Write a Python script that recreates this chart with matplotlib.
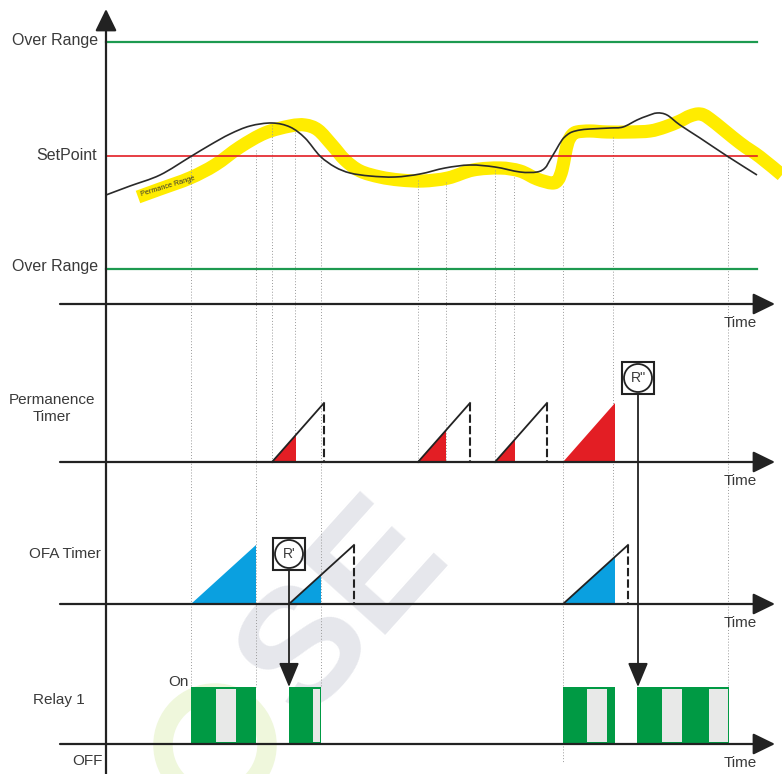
import matplotlib
matplotlib.use("Agg")
import matplotlib.pyplot as plt
from matplotlib.patches import Rectangle, Circle, Polygon, PathPatch
from matplotlib.path import Path
import numpy as np

plt.rcParams['font.family'] = ['Liberation Sans', 'DejaVu Sans']

# ---- data (time axis in px-like units, levels in px-like units, y grows down) ----
# process value (black) and permanence band (yellow)
pv_t = [106, 130, 160, 190, 210, 230, 250, 272, 290, 305, 320, 335, 350, 370, 395,
        420, 445, 470, 495, 520, 537, 545, 550, 556, 562, 567, 572, 580, 590, 610,
        623, 637, 647, 657, 667, 680, 700, 727, 757]
pv_v = [195, 186, 175, 157, 145, 134, 126, 123, 127, 138, 156, 167, 173, 176, 177,
        174, 168, 165, 167, 172, 172, 168, 160, 150, 140, 135, 132, 130, 129, 128,
        127, 120, 116, 113, 115, 125, 138, 156, 175]

band_t = [138, 160, 190, 215, 240, 265, 290, 305, 318, 332, 345, 360, 380, 400, 423,
          448, 473, 500, 520, 537, 552, 558, 562, 565, 568, 572, 577, 590, 607, 630,
          650, 665, 680, 690, 700, 710, 740, 760, 782]
band_v = [197, 189, 178, 165, 147, 133, 126, 125, 130, 145, 160, 171, 177, 180, 181,
          178, 170, 168, 171, 179, 183, 180, 170, 155, 142, 135, 132, 131, 132, 132,
          131, 127, 121, 116, 114, 119, 143, 157, 175]

over_hi, setpoint, over_lo = 42, 156, 269
line_end = 757

# event markers (dotted guides): x, start y, end y
guide_x = [191, 256, 272, 295, 321, 418, 446, 495, 514, 563, 613, 728]
guide_y0 = [157, 150, 125, 132, 157, 180, 182, 170, 177, 186, 137, 157]
guide_y1 = [687, 687, 462, 462, 687, 462, 462, 462, 462, 762, 604, 687]

# permanence timer runs: start, stop
perm_start = [272, 418, 495, 563]
perm_stop = [296, 446, 515, 615]
perm_period = 52

# OFA timer runs: start, stop
ofa_start = [191, 289, 563]
ofa_stop = [256, 321, 615]
ofa_period = 65

# relay on windows and off gaps inside them
relay_on = [(191, 256), (289, 321), (563, 615), (637, 729)]
relay_gap = [(216, 236), (313, 320), (587, 607), (662, 682), (709, 728)]

# reset markers: label, x, box top
resets = [("R'", 289, 538), ("R''", 638, 362)]

# panel baselines
base_main, base_perm, base_ofa, base_relay = 304, 462, 604, 744
timer_h = 59
relay_top = 687

TXT = "#3a3a3a"
GREEN_LINE = "#1d9a50"
RED = "#e31e24"
BLUE = "#0aa0e0"
GREEN = "#009a44"
GAP = "#e8e9e8"
YELLOW = "#ffec00"

fig = plt.figure(figsize=(7.82, 7.74), dpi=100)
ax = fig.add_axes([0, 0, 1, 1])
ax.set_xlim(0, 782)
ax.set_ylim(774, 0)
ax.axis("off")


def smooth_path(xs, ys):
    # catmull-rom through the read points, drawn as cubic bezier segments
    p = np.column_stack([xs, ys]).astype(float)
    verts = [p[0]]
    codes = [Path.MOVETO]
    for i in range(len(p) - 1):
        p0 = p[i - 1] if i > 0 else p[i]
        p3 = p[i + 2] if i + 2 < len(p) else p[i + 1]
        c1 = p[i] + (p[i + 1] - p0) / 6
        c2 = p[i + 1] - (p3 - p[i]) / 6
        verts += [c1, c2, p[i + 1]]
        codes += [Path.CURVE4] * 3
    return Path(verts, codes)


# watermark
ax.text(345, 610, "SE", fontsize=120, fontweight="heavy", color="#e6e7ec",
        rotation=48, ha="center", va="center", zorder=0)
ax.add_patch(Circle((215, 745), 52, fill=False, lw=14, ec="#eff7dc", zorder=0))

# arrows for axes
arr = dict(arrowstyle="-|>,head_length=0.45,head_width=0.22", color="#222222",
           lw=1.6, mutation_scale=30, shrinkA=0, shrinkB=0)
for b in [base_main, base_perm, base_ofa, base_relay]:
    ax.annotate("", xy=(775, b), xytext=(60, b), arrowprops=arr, zorder=5)
    ax.text(740, b + 19, "Time", fontsize=11, color=TXT, ha="center", va="center")
ax.annotate("", xy=(106, 9), xytext=(106, 774), arrowprops=arr, zorder=5)

# reference lines
ax.plot([106, line_end], [over_hi, over_hi], color=GREEN_LINE, lw=1.6, zorder=2)
ax.plot([106, line_end], [over_lo, over_lo], color=GREEN_LINE, lw=1.6, zorder=2)
ax.plot([106, line_end], [setpoint, setpoint], color=RED, lw=1.2, zorder=2)

# band + process value
ax.add_patch(PathPatch(smooth_path(band_t, band_v), fill=False, ec=YELLOW,
                       lw=9.5, capstyle="butt", joinstyle="round", zorder=1))
ax.text(168, 186, "Permance Range", fontsize=5.2, color="#333333", rotation=17,
        ha="center", va="center", zorder=3)
ax.add_patch(PathPatch(smooth_path(pv_t, pv_v), fill=False, ec="#2a2a2a",
                       lw=1.2, zorder=3))

# guides
for x, y0, y1 in zip(guide_x, guide_y0, guide_y1):
    ax.plot([x, x], [y0, y1], color="#9a9a9a", lw=0.7, ls=(0, (1, 2)), zorder=1)


def timer(starts, stops, period, base, color):
    for s, e in zip(starts, stops):
        end = min(e, s + period)
        top = base - timer_h * (end - s) / period
        ax.add_patch(Polygon([(s, base), (end, top), (end, base)], closed=True,
                             fc=color, ec="none", zorder=3))
        if e < s + period:
            ax.plot([s, s + period], [base, base - timer_h], color="#222222",
                    lw=1.3, zorder=4)
            ax.plot([s + period, s + period], [base - timer_h, base],
                    color="#222222", lw=1.5, ls=(0, (4, 1.5)), zorder=4)


timer(perm_start, perm_stop, perm_period, base_perm, RED)
timer(ofa_start, ofa_stop, ofa_period, base_ofa, BLUE)

# relay
for a, b in relay_on:
    ax.add_patch(Rectangle((a, relay_top), b - a, base_relay - relay_top,
                           fc=GREEN, ec="none", zorder=3))
for a, b in relay_gap:
    ax.add_patch(Rectangle((a, relay_top + 2), b - a, base_relay - relay_top - 4,
                           fc=GAP, ec="none", zorder=3))

# reset markers
for lab, x, top in resets:
    ax.add_patch(Rectangle((x - 16, top), 32, 32, fill=False, ec="#222222",
                           lw=1.5, zorder=6))
    ax.add_patch(Circle((x, top + 16), 14, fill=False, ec="#222222", lw=1.3,
                        zorder=6))
    ax.text(x, top + 16, lab, fontsize=10, color=TXT, ha="center", va="center",
            zorder=6)
    ax.annotate("", xy=(x, relay_top), xytext=(x, top + 32),
                arrowprops=dict(arrowstyle="-|>,head_length=0.6,head_width=0.25",
                                color="#222222", lw=1.3, mutation_scale=25,
                                shrinkA=0, shrinkB=0), zorder=6)

# labels
ax.text(98, 40, "Over Range", fontsize=11.5, color=TXT, ha="right", va="center")
ax.text(97, 155, "SetPoint", fontsize=11.5, color=TXT, ha="right", va="center")
ax.text(98, 266, "Over Range", fontsize=11.5, color=TXT, ha="right", va="center")
ax.text(52, 400, "Permanence", fontsize=11, color=TXT, ha="center", va="center")
ax.text(52, 417, "Timer", fontsize=11, color=TXT, ha="center", va="center")
ax.text(101, 554, "OFA Timer", fontsize=11, color=TXT, ha="right", va="center")
ax.text(59, 700, "Relay 1", fontsize=11, color=TXT, ha="center", va="center")
ax.text(168, 682, "On", fontsize=11, color=TXT, ha="left", va="center")
ax.text(103, 761, "OFF", fontsize=11, color=TXT, ha="right", va="center")

fig.savefig("out.png", dpi=100)
